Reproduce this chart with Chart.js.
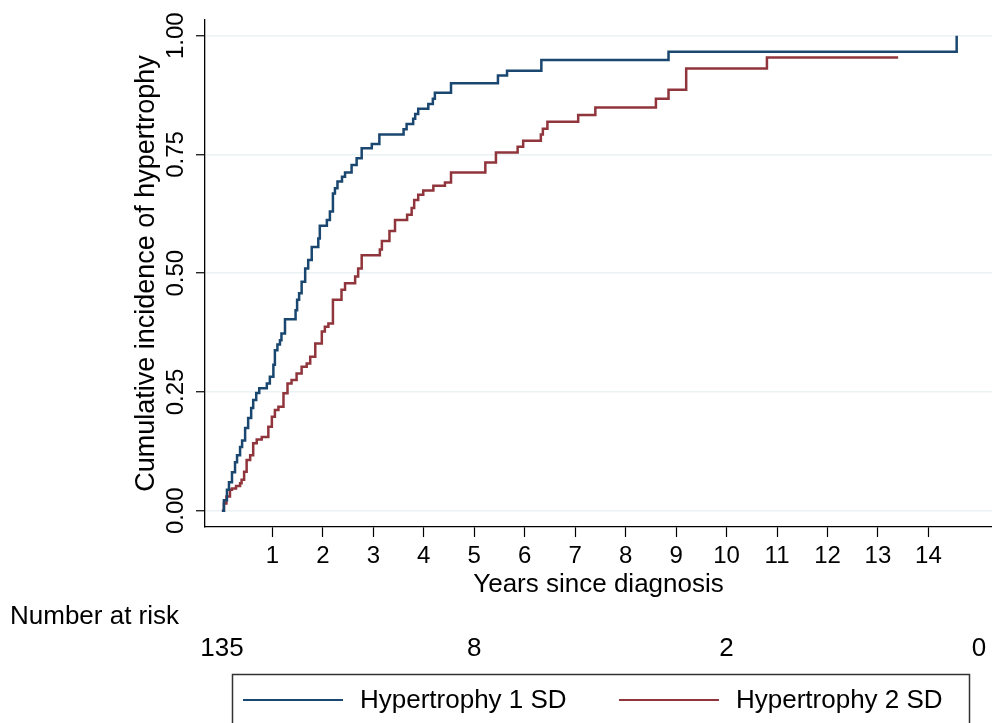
<!DOCTYPE html>
<html lang="en">
<head>
    <meta charset="UTF-8">
    <title>Cumulative incidence of hypertrophy</title>
    <script src="https://cdn.jsdelivr.net/npm/chart.js"></script>
    <style>
        body {
            margin: 0;
            background-color: #fff;
        }
        #wrap {
            width: 992px;
            height: 723px;
        }
    </style>
</head>
<body>
    <div id="wrap"><canvas id="kmChart" width="992" height="723"></canvas></div>

    <script>
        // axis ticks
        const yearTicks = [1, 2, 3, 4, 5, 6, 7, 8, 9, 10, 11, 12, 13, 14];
        const incidenceTicks = [0, 0.25, 0.5, 0.75, 1];

        // Hypertrophy 1 SD (step points: time, cumulative incidence)
        const sd1Times = [0, 0.04, 0.10, 0.14, 0.20, 0.26, 0.30, 0.36, 0.40, 0.46, 0.52, 0.58, 0.62, 0.68, 0.74,
            0.89, 0.95, 1.02, 1.05, 1.10, 1.15, 1.18, 1.25, 1.46, 1.49, 1.53, 1.58, 1.65, 1.71, 1.78, 1.91, 1.94,
            2.08, 2.14, 2.20, 2.24, 2.29, 2.38, 2.44, 2.57, 2.67, 2.77, 2.97, 3.12, 3.60, 3.66, 3.79, 3.83, 3.89,
            4.09, 4.18, 4.22, 4.54, 5.47, 5.65, 6.33, 8.85, 14.56];
        const sd1Values = [0, 0.022, 0.044, 0.060, 0.081, 0.102, 0.117, 0.134, 0.148, 0.174, 0.195, 0.216, 0.233, 0.248, 0.258,
            0.268, 0.282, 0.307, 0.338, 0.350, 0.359, 0.373, 0.403, 0.422, 0.444, 0.458, 0.482, 0.510, 0.528, 0.555, 0.573, 0.600,
            0.612, 0.630, 0.668, 0.679, 0.693, 0.703, 0.712, 0.728, 0.742, 0.763, 0.772, 0.792, 0.803, 0.814, 0.825, 0.835, 0.846,
            0.856, 0.867, 0.880, 0.900, 0.916, 0.926, 0.949, 0.966, 1.0];

        // Hypertrophy 2 SD
        const sd2Times = [0, 0.04, 0.09, 0.16, 0.20, 0.28, 0.36, 0.39, 0.44, 0.49, 0.56, 0.62, 0.69, 0.79, 0.92,
            0.99, 1.05, 1.12, 1.22, 1.30, 1.38, 1.48, 1.58, 1.68, 1.75, 1.85, 1.98, 2.04, 2.11, 2.20,
            2.37, 2.44, 2.64, 2.70, 2.77, 3.13, 3.17, 3.32, 3.43, 3.67, 3.76, 3.81, 3.89, 3.99, 4.19,
            4.42, 4.54, 5.22, 5.43, 5.86, 5.97, 6.32, 6.36, 6.45, 7.06, 7.40, 8.60, 8.85, 9.20, 10.80, 13.40];
        const sd2Values = [0, 0.015, 0.030, 0.044, 0.047, 0.052, 0.058, 0.065, 0.082, 0.107, 0.117, 0.142, 0.150, 0.155, 0.177,
            0.198, 0.212, 0.219, 0.247, 0.268, 0.275, 0.289, 0.303, 0.310, 0.324, 0.352, 0.377, 0.387, 0.394, 0.444,
            0.465, 0.479, 0.493, 0.510, 0.538, 0.550, 0.568, 0.589, 0.612, 0.623, 0.637, 0.654, 0.665, 0.674, 0.684,
            0.691, 0.712, 0.733, 0.754, 0.766, 0.779, 0.792, 0.804, 0.819, 0.833, 0.849, 0.867, 0.886, 0.931, 0.954, 0.954];

        // number at risk table
        const riskTimes = [0, 5, 10, 15];
        const riskCounts = [135, 8, 2, 0];

        const seriesLabels = ['Hypertrophy 1 SD', 'Hypertrophy 2 SD'];
        const seriesColors = ['#1a476f', '#90353b'];

        const FONT = 'Liberation Sans, Arial, sans-serif';

        function toPoints(times, values) {
            return times.map((t, i) => ({ x: t, y: values[i] }));
        }

        // draws rotated y tick labels, the risk table and the framed legend
        const extras = {
            id: 'extras',
            afterDraw(chart) {
                const ctx = chart.ctx;
                const xs = chart.scales.x;
                const ys = chart.scales.y;
                ctx.save();
                ctx.fillStyle = '#000';

                ctx.font = '24px ' + FONT;
                ctx.textAlign = 'center';
                ctx.textBaseline = 'middle';
                incidenceTicks.forEach(v => {
                    ctx.save();
                    ctx.translate(176, ys.getPixelForValue(v));
                    ctx.rotate(-Math.PI / 2);
                    ctx.fillText(v.toFixed(2), 0, 0);
                    ctx.restore();
                });

                ctx.font = '26px ' + FONT;
                ctx.textAlign = 'left';
                ctx.fillText('Number at risk', 10, 617);
                ctx.textAlign = 'center';
                riskTimes.forEach((t, i) => {
                    ctx.fillText(String(riskCounts[i]), xs.getPixelForValue(t), 649);
                });

                // legend
                ctx.strokeStyle = '#333';
                ctx.lineWidth = 1.5;
                ctx.strokeRect(232.5, 674.5, 737, 80);
                const lineStarts = [243, 619];
                chart.data.datasets.forEach((ds, i) => {
                    ctx.strokeStyle = ds.borderColor;
                    ctx.lineWidth = 2;
                    ctx.beginPath();
                    ctx.moveTo(lineStarts[i], 700);
                    ctx.lineTo(lineStarts[i] + 100, 700);
                    ctx.stroke();
                    ctx.textAlign = 'left';
                    ctx.fillText(ds.label, lineStarts[i] + 117, 701);
                });
                ctx.restore();
            }
        };

        new Chart(document.getElementById('kmChart'), {
            type: 'line',
            data: {
                datasets: [{
                    label: seriesLabels[0],
                    data: toPoints(sd1Times, sd1Values),
                    borderColor: seriesColors[0],
                    borderWidth: 2.5,
                    stepped: true,
                    pointRadius: 0,
                    fill: false
                }, {
                    label: seriesLabels[1],
                    data: toPoints(sd2Times, sd2Values),
                    borderColor: seriesColors[1],
                    borderWidth: 2.5,
                    stepped: true,
                    pointRadius: 0,
                    fill: false
                }]
            },
            options: {
                responsive: false,
                animation: false,
                devicePixelRatio: 1,
                layout: { padding: { left: 130, top: 20, right: 0, bottom: 123 } },
                plugins: {
                    legend: { display: false },
                    tooltip: { enabled: false }
                },
                scales: {
                    x: {
                        type: 'linear',
                        min: -0.335,
                        max: 15.26,
                        afterBuildTicks: s => { s.ticks = yearTicks.map(v => ({ value: v })); },
                        afterFit: s => { s.height = 73; },
                        ticks: {
                            autoSkip: false,
                            maxRotation: 0,
                            padding: 5,
                            color: '#000',
                            font: { family: FONT, size: 24 }
                        },
                        grid: { drawOnChartArea: false, tickLength: 10, tickColor: '#000', tickWidth: 1.2 },
                        border: { color: '#000', width: 1.3 },
                        title: {
                            display: true,
                            text: 'Years since diagnosis',
                            color: '#000',
                            padding: 0,
                            font: { family: FONT, size: 26 }
                        }
                    },
                    y: {
                        min: -0.0343,
                        max: 1.033,
                        afterBuildTicks: s => { s.ticks = incidenceTicks.map(v => ({ value: v })); },
                        afterFit: s => { s.width = 75; },
                        ticks: { display: false },
                        grid: { color: '#eaf2f3', lineWidth: 1.5, tickLength: 9, tickColor: '#000', tickWidth: 1.2 },
                        border: { color: '#000', width: 1.3 },
                        title: {
                            display: true,
                            text: 'Cumulative incidence of hypertrophy',
                            color: '#000',
                            padding: 0,
                            font: { family: FONT, size: 27 }
                        }
                    }
                }
            },
            plugins: [extras]
        });
    </script>
</body>
</html>
